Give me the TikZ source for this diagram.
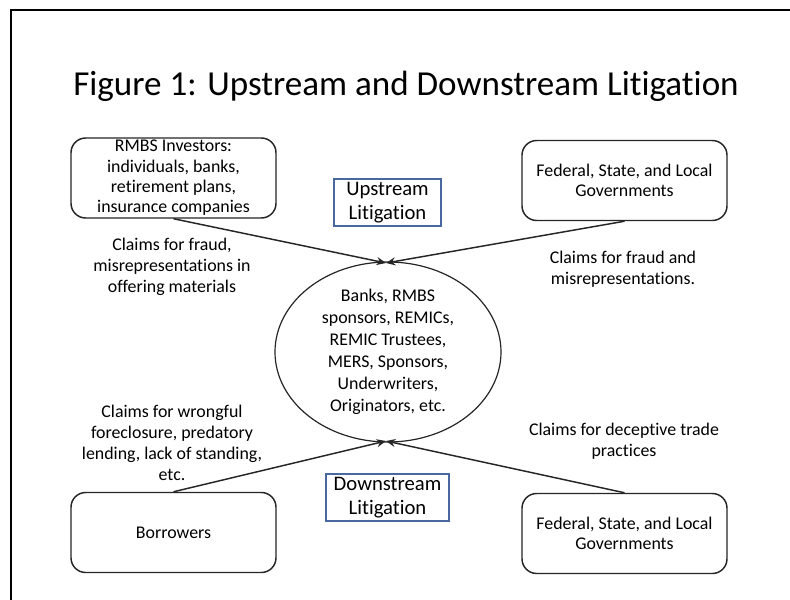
\documentclass[tikz,border=0pt]{standalone}
\usepackage{fontspec}
\setmainfont[Ligatures=NoCommon]{Carlito}
\usetikzlibrary{arrows.meta,shapes.geometric}
\definecolor{litblue}{RGB}{72,104,160}
\begin{document}
\begin{tikzpicture}[x=0.75pt,y=-0.75pt,
  party/.style={draw=black!85,line width=1.1pt,rounded corners=11pt,minimum width=205*0.75pt,minimum height=80*0.75pt,align=center,font=\fontsize{13.4}{15.3}\selectfont,inner sep=0pt},
  litbox/.style={draw=litblue,line width=0.9pt,align=center,font=\fontsize{15.5}{18}\selectfont,inner sep=0pt},
  claim/.style={align=center,font=\fontsize{13.4}{15.8}\selectfont,inner sep=0pt},
  flow/.style={draw=black!85,line width=1.1pt,-{Stealth[length=7pt,width=6pt]}}]
\useasboundingbox (0,0) rectangle (790,600);
\clip (0,0) rectangle (790,600);
\fill[white] (0,0) rectangle (790,600);
\draw[line width=1.6pt] (11,620) -- (11,10) -- (810,10);
\node[font=\fontsize{26.3}{30}\selectfont] (title) at (406,86) {Figure 1: Upstream and Downstream Litigation};
\node[party] (inv) at (173.5,178) {RMBS Investors:\\individuals, banks,\\retirement plans,\\insurance companies};
\node[party] (govtop) at (624.5,180.5) {Federal, State, and Local\\Governments};
\node[party] (borr) at (173.5,532.5) {Borrowers};
\node[party] (govbot) at (624.5,533.5) {Federal, State, and Local\\Governments};
\node[draw=black!85,line width=0.9pt,ellipse,minimum width=226*0.75pt,minimum height=180*0.75pt,inner sep=0pt,align=center,font=\fontsize{13.4}{16.5}\selectfont] (core) at (388,352) {Banks, RMBS\\sponsors, REMICs,\\REMIC Trustees,\\MERS, Sponsors,\\Underwriters,\\Originators, etc.};
\node[litbox,minimum width=107*0.75pt,minimum height=47*0.75pt] (up) at (387.5,202.5) {Upstream\\Litigation};
\node[litbox,minimum width=123*0.75pt,minimum height=47*0.75pt] (down) at (387.5,497.5) {Downstream\\Litigation};
\node[claim] (c1) at (172,267) {Claims for fraud,\\misrepresentations in\\offering materials};
\node[claim] (c2) at (623,269) {Claims for fraud and\\misrepresentations.};
\node[claim] (c3) at (172,443) {Claims for wrongful\\foreclosure, predatory\\lending, lack of standing,\\etc.};
\node[claim] (c4) at (624,441.5) {Claims for deceptive trade\\practices};
\coordinate (topin) at (386,263);
\coordinate (botin) at (386,441);
\draw[flow] (inv.south) -- (topin);
\draw[flow] (govtop.south) -- (topin);
\draw[flow] (borr.north) -- (botin);
\draw[flow] (govbot.north) -- (botin);
\end{tikzpicture}
\end{document}
